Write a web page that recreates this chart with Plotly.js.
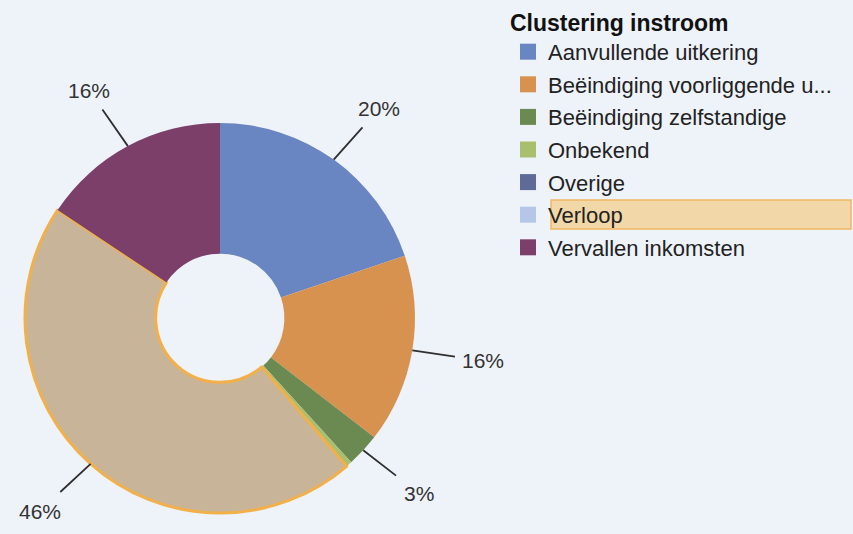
<!DOCTYPE html>
<html>
<head>
<meta charset="utf-8">
<script src="https://cdn.plot.ly/plotly-3.0.1.min.js"></script>
<style>html,body{margin:0;padding:0;background:#eef2f9;}#chart{width:853px;height:534px;}</style>
</head>
<body>
<div id="chart"></div>
<script>
// Data
var categories = ["Aanvullende uitkering", "Beëindiging voorliggende u...", "Beëindiging zelfstandige", "Onbekend", "Overige", "Verloop", "Vervallen inkomsten"];
var values = [20.0, 15.8, 2.8, 0.4, 0.1, 46.0, 15.8];
var legendTitle = "Clustering instroom";
var highlighted = "Verloop";

// Styles
var legendColors = ["#6a86c2", "#d8924f", "#6b8a52", "#a9bf6e", "#5f6b96", "#b5c7e8", "#7b3f6a"];
var sliceColors  = ["#6a86c2", "#d8924f", "#6b8a52", "#a9bf6e", "#5f6b96", "#c8b599", "#7b3f6a"];

var W = 853, H = 534;
var cx = 220, cy = 318, R = 195;

var lineColors = categories.map(function(c){ return c === highlighted ? "#f2b04a" : "rgba(0,0,0,0)"; });
var lineWidths = categories.map(function(c){ return c === highlighted ? 3 : 0; });

var pie = {
  type: "pie",
  labels: categories,
  values: values,
  sort: false,
  direction: "clockwise",
  rotation: 0,
  hole: 0.33,
  textinfo: "none",
  hoverinfo: "label+percent",
  showlegend: false,
  marker: {colors: sliceColors, line: {color: lineColors, width: lineWidths}},
  domain: {x: [(cx - R) / W, (cx + R) / W], y: [1 - (cy + R) / H, 1 - (cy - R) / H]}
};

var traces = [pie];
categories.forEach(function(c, i){
  traces.push({
    type: "scatter", mode: "markers", x: [null], y: [null],
    name: c, legendgroup: "g" + i, hoverinfo: "skip",
    marker: {symbol: "square", size: 16, color: legendColors[i], line: {width: 0}}
  });
});

// Percentage labels with leader lines, positioned from the data angles
var total = values.reduce(function(a, b){ return a + b; }, 0);
var annotations = [];
var cum = 0;
values.forEach(function(v){
  var pct = v / total * 100;
  var mid = (cum + v / 2) / total * 2 * Math.PI;
  cum += v;
  if (pct < 1) return;
  var sx = Math.sin(mid), sy = -Math.cos(mid);
  var ex = cx + R * sx, ey = cy + R * sy;
  var L = 258;
  var tx = cx + L * sx + (sx >= 0 ? 9 : -9), ty = cy + L * sy;
  annotations.push({
    xref: "paper", yref: "paper",
    x: ex / W, y: 1 - ey / H,
    ax: tx - ex, ay: ty - ey,
    text: Math.round(pct) + "%",
    showarrow: true, arrowhead: 0, arrowwidth: 1.8, arrowcolor: "#2f2f2f",
    standoff: 0, borderpad: 7,
    font: {family: "Liberation Sans, Arial, sans-serif", size: 21, color: "#333333"}
  });
});

var layout = {
  width: W, height: H,
  paper_bgcolor: "#eef2f9",
  plot_bgcolor: "rgba(0,0,0,0)",
  margin: {l: 0, r: 0, t: 0, b: 0},
  xaxis: {visible: false, fixedrange: true},
  yaxis: {visible: false, fixedrange: true},
  showlegend: true,
  legend: {
    x: 508 / W, y: 1 - 1 / H, xanchor: "left", yanchor: "top",
    bgcolor: "rgba(0,0,0,0)", borderwidth: 0,
    traceorder: "grouped", tracegroupgap: 1,
    font: {family: "Liberation Sans, Arial, sans-serif", size: 22, color: "#222222"},
    title: {text: "<b>" + legendTitle + "</b>", font: {family: "Liberation Sans, Arial, sans-serif", size: 23, color: "#111111"}}
  },
  shapes: [{
    type: "rect", xref: "paper", yref: "paper", layer: "above",
    x0: 551 / W, x1: 851 / W, y0: 1 - 229 / H, y1: 1 - 200 / H,
    fillcolor: "#f2d8a8", line: {color: "#f0b860", width: 1.5}
  }],
  annotations: annotations
};

Plotly.newPlot("chart", traces, layout, {displayModeBar: false, staticPlot: true});
</script>
</body>
</html>
